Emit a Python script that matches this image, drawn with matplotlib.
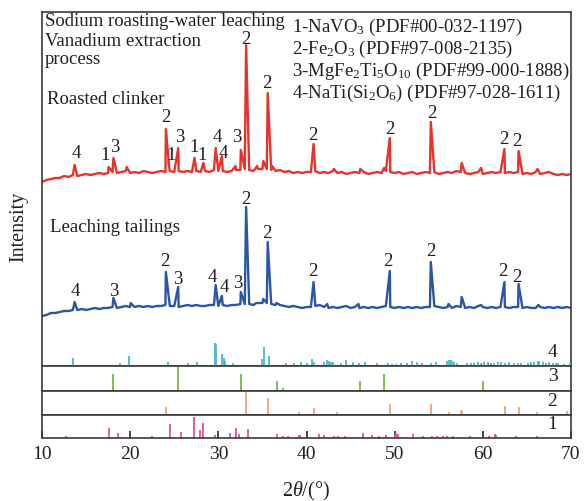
import numpy as np
import matplotlib
matplotlib.use('Agg')
import matplotlib.pyplot as plt

plt.rcParams['font.family'] = ['Liberation Serif', 'DejaVu Serif']
plt.rcParams['mathtext.fontset'] = 'custom'
plt.rcParams['mathtext.rm'] = 'Liberation Serif'
plt.rcParams['mathtext.it'] = 'Liberation Serif:italic'
plt.rcParams['mathtext.bf'] = 'Liberation Serif:bold'

# ---- data ----
# baseline sampled every 0.5 deg from 10 to 70
base_x = np.arange(10, 70.01, 0.5)
red_base = [184, 186, 187, 188, 188, 190, 189, 191, 190, 191, 192, 191, 192, 193, 192, 193,
            194, 193, 194, 195, 193, 194, 193, 195, 194, 193, 194, 195, 194, 195, 194, 195,
            194, 195, 194, 195, 194, 195, 194, 196, 195, 195, 194, 195, 196, 196, 197, 196,
            195, 197, 197, 197, 196, 195, 196, 194, 195, 193, 194, 193, 194, 194, 195, 193,
            194, 193, 195, 193, 194, 192, 193, 194, 193, 194, 192, 193, 194, 193, 195, 194,
            193, 194, 192, 193, 194, 192, 193, 194, 193, 194, 192, 193, 194, 193, 195, 194,
            193, 192, 193, 194, 192, 193, 194, 193, 194, 193, 194, 193, 194, 192, 193, 192,
            194, 192, 193, 194, 192, 191, 192, 191, 192]
blue_base = [50, 51, 53, 53, 54, 55, 55, 56, 56, 57, 56, 57, 58, 57, 58, 58,
             59, 58, 59, 60, 59, 59, 60, 59, 60, 59, 60, 60, 61, 60, 60, 59,
             60, 61, 60, 61, 60, 60, 61, 61, 60, 61, 60, 61, 61, 62, 62, 62,
             61, 63, 63, 63, 62, 61, 61, 60, 59, 60, 59, 58, 59, 59, 60, 61,
             59, 58, 59, 58, 59, 60, 58, 59, 58, 59, 58, 59, 58, 59, 60, 59,
             58, 59, 58, 59, 58, 59, 58, 59, 59, 60, 59, 58, 59, 58, 60, 59,
             58, 59, 58, 60, 59, 58, 59, 58, 59, 59, 58, 59, 59, 58, 59, 58,
             58, 59, 58, 59, 58, 59, 58, 59, 58]

red_peak_x = [13.7, 17.55, 18.1, 19.6, 24.05, 24.4, 25.45, 27.3, 28.3, 29.7, 30.4, 31.95,
              32.55, 33.15, 34.4, 35.1, 35.6, 36.1, 40.8, 43.1, 46.1, 48.8, 49.45, 54.1,
              57.6, 59.8, 62.45, 64.05, 66.2]
red_peak_y = [201, 199, 208, 199, 237, 201, 218, 208, 203, 218, 210, 200,
              216, 321, 200, 205, 273, 200, 222, 197, 197, 198, 228, 244,
              203, 198, 217, 215, 197]
blue_peak_x = [13.7, 18.1, 20.05, 24.05, 25.45, 29.7, 30.4, 32.55, 33.15, 34.3, 35.1, 35.6,
               36.6, 40.8, 42.35, 45.9, 49.45, 54.1, 56.1, 57.6, 59.8, 62.45, 64.05, 66.3]
blue_peak_y = [64, 68, 63, 94, 79, 81, 70, 74, 159, 63, 67, 124,
               63, 84, 62, 62, 95, 104, 62, 69, 61, 84, 82, 61]

red_lbl = ['4', '1', '3', '2', '1', '3', '1', '1', '4', '4', '3', '2', '2', '2', '2', '2', '2', '2']
red_lbl_x = [13.9, 17.2, 18.3, 24.0, 24.6, 25.6, 27.2, 28.2, 29.85, 30.6, 32.1, 33.1, 35.55,
             40.72, 49.43, 54.17, 62.35, 63.86]
red_lbl_y = [212, 211, 218, 249, 211, 229, 218, 211, 229, 213, 228, 326, 282,
             231, 237, 253, 226, 224]
blue_lbl = ['4', '3', '2', '3', '4', '4', '3', '2', '2', '2', '2', '2', '2', '2']
blue_lbl_x = [13.75, 18.1, 23.9, 25.4, 29.35, 30.7, 32.2, 33.15, 35.53, 40.72, 49.24, 54.1,
              62.24, 63.86]
blue_lbl_y = [74, 74, 104, 86, 89, 78, 83, 166, 133, 94, 104, 114, 94, 89]

# reference patterns
ref4_x = [13.56, 18.86, 19.85, 24.24, 26.56, 27.58, 29.66, 29.77, 30.4, 30.6, 30.75, 31.63,
          34.9, 35.23, 35.8, 37.7, 38.56, 39.4, 40.07, 40.65, 40.8, 42.0, 42.27, 42.5, 42.8,
          43.0, 43.9, 44.5, 45.3, 45.95, 46.6, 48.0, 49.24, 49.74, 50.12, 50.68, 51.44, 52.01,
          52.58, 53.15, 54.09, 54.66, 55.99, 56.18, 56.37, 56.55, 56.74, 57.12, 58.26, 58.64,
          59.02, 59.4, 59.77, 60.15, 60.53, 60.91, 61.29, 61.67, 62.05, 62.5, 62.99, 63.56,
          63.94, 64.32, 65.08, 65.46, 65.84, 66.21, 66.4, 66.78, 67.16, 67.54, 67.92, 68.3,
          68.49, 69.24, 69.9]
ref4_h = [8, 3, 10, 4, 3, 4, 23, 22, 12, 8, 5, 3,
          7, 19, 10, 3, 3, 4, 3, 7, 4, 4, 6, 5, 4,
          4, 3, 6, 4, 3, 4, 3, 3, 2, 2, 3, 3, 5,
          4, 3, 3, 4, 5, 6, 6, 5, 4, 3, 3, 3,
          3, 4, 3, 4, 4, 3, 3, 4, 4, 3, 4, 3,
          3, 3, 3, 4, 4, 5, 5, 4, 3, 4, 3, 3,
          3, 2, 3]
ref3_x = [18.03, 25.45, 32.58, 36.6, 37.35, 46.06, 48.8, 59.97]
ref3_h = [17, 24, 17, 10, 3, 10, 17, 10]
ref2_x = [24.09, 33.1, 35.6, 39.17, 40.83, 43.5, 49.47, 54.09, 56.2, 57.5, 57.65, 62.46,
          64.05, 66.1, 69.6]
ref2_h = [8, 23, 17, 3, 7, 3, 11, 11, 3, 5, 4, 9, 8, 3, 4]
ref1_x = [12.73, 17.58, 18.6, 22.5, 24.55, 25.8, 27.2, 27.95, 28.26, 29.6, 31.36, 32.0,
          32.35, 33.37, 36.67, 37.35, 37.9, 39.1, 39.3, 41.4, 41.97, 43.07, 43.6, 44.4,
          46.4, 47.46, 48.2, 49.0, 50.0, 50.2, 50.4, 52.1, 53.26, 54.2, 54.85, 55.5, 55.9,
          56.67, 58.5, 60.65, 61.4, 61.5, 63.75, 66.1]
ref1_h = [2, 10, 5, 2, 14, 6, 21, 8, 15, 3, 5, 10,
          4, 9, 4, 2, 2, 3, 3, 4, 3, 2, 2, 2,
          5, 3, 2, 3, 4, 5, 4, 4, 2, 2, 2, 2, 2,
          2, 2, 2, 4, 3, 2, 2]

legend_lines = ['1-NaVO$_3$ (PDF#00-032-1197)',
                '2-Fe$_2$O$_3$ (PDF#97-008-2135)',
                '3-MgFe$_2$Ti$_5$O$_{10}$ (PDF#99-000-1888)',
                '4-NaTi(Si$_2$O$_6$) (PDF#97-028-1611)']

RED = '#e8322b'
BLUE = '#2b56a6'
TXT = '#231f20'
EDGE = '#3a3a3a'


def merge(bx, by, px, py):
    x = np.concatenate([bx, px])
    y = np.concatenate([by, py])
    o = np.argsort(x)
    return x[o], y[o]


W, H = 584, 501
fig = plt.figure(figsize=(W / 100, H / 100), dpi=100)


def box(top, bottom):
    return [42 / W, 1 - bottom / H, 529 / W, (bottom - top) / H]


ax = fig.add_axes(box(12, 366))
ax4 = fig.add_axes(box(342, 366))
ax3 = fig.add_axes(box(366, 391))
ax2 = fig.add_axes(box(391, 415))
ax1 = fig.add_axes(box(415, 438))

rx, ry = merge(base_x, np.array(red_base, float), np.array(red_peak_x), np.array(red_peak_y, float))
bx, by = merge(base_x, np.array(blue_base, float), np.array(blue_peak_x), np.array(blue_peak_y, float))
ax.plot(rx, ry, color=RED, lw=1.7)
ax.plot(bx, by, color=BLUE, lw=1.7)
ax.set_xlim(10, 70)
ax.set_ylim(0, 354)
for t, x, y in zip(red_lbl, red_lbl_x, red_lbl_y):
    ax.text(x, y, t, ha='center', va='center', fontsize=13.5, color=TXT)
for t, x, y in zip(blue_lbl, blue_lbl_x, blue_lbl_y):
    ax.text(x, y, t, ha='center', va='center', fontsize=13.5, color=TXT)

ax.text(10.35, 344, 'Sodium roasting-water leaching', fontsize=13.5, va='center', color=TXT)
ax.text(10.35, 325, 'Vanadium extraction', fontsize=13.5, va='center', color=TXT)
ax.text(10.35, 306, 'process', fontsize=13.5, va='center', color=TXT)
ax.text(10.6, 266, 'Roasted clinker', fontsize=13.5, va='center', color=TXT)
ax.text(10.9, 138, 'Leaching tailings', fontsize=13.5, va='center', color=TXT)
for i, s in enumerate(legend_lines):
    ax.text(38.3, 339 - i * 22, s, fontsize=13.5, va='center', color=TXT)

panels = [(ax4, ref4_x, ref4_h, '#4cb8c9', 24, '4'),
          (ax3, ref3_x, ref3_h, '#72b84a', 25, '3'),
          (ax2, ref2_x, ref2_h, '#f2a374', 24, '2'),
          (ax1, ref1_x, ref1_h, '#d9559d', 23, '1')]
for a, xs, hs, c, top, lab in panels:
    a.vlines(xs, 0, hs, color=c, lw=1.3)
    a.set_xlim(10, 70)
    a.set_ylim(0, top)
    a.set_yticks([])
    a.set_xticks([])
    a.text(0.965, 0.58, lab, transform=a.transAxes, ha='center', va='center',
           fontsize=14, color=TXT)

ax4.patch.set_alpha(0)
for s in ax4.spines.values():
    s.set_visible(False)

for a in [ax, ax3, ax2, ax1]:
    for s in a.spines.values():
        s.set_color(EDGE)
        s.set_linewidth(1.2)
ax.set_xticks([])
ax.set_yticks([])

ax1.set_xticks(range(10, 71, 10))
ax1.tick_params(axis='x', direction='in', length=5, width=1.2, color='#222222',
                labelsize=14, pad=6, labelcolor=TXT)

fig.text(19 / W, 1 - 227 / H, 'Intensity', rotation=90, ha='center', va='center',
         fontsize=14.5, color=TXT)
fig.text(306 / W, 1 - 491 / H, r'$\mathit{2}\theta$/(°)', ha='center', va='center',
         fontsize=14.5, color=TXT)

fig.savefig('out.png', dpi=100)
